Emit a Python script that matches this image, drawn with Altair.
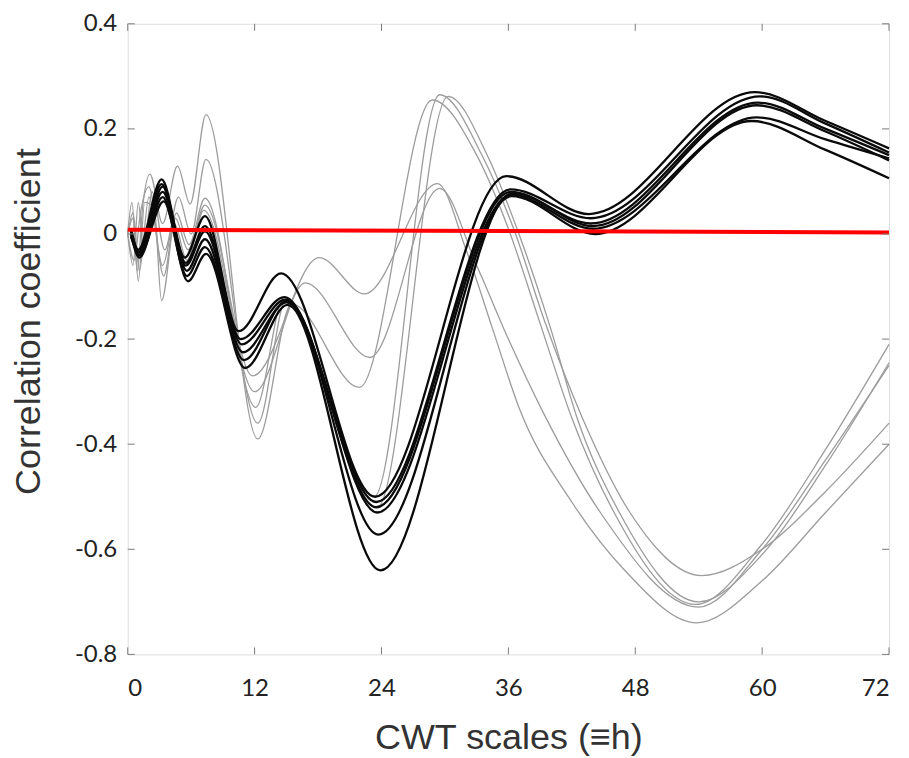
import altair as alt
import pandas as pd

# ---------------- data ----------------
# Black curves (x positions of turning points, correlation values)
B1_X = [0.3, 1.0, 3.2, 5.4, 7.3, 10.5, 14.5, 23.4, 35.8, 43.6, 59.3, 66, 72]
B1_Y = [0.01, -0.03, 0.104, -0.045, 0.034, -0.185, -0.075, -0.50, 0.11, 0.038, 0.27, 0.215, 0.163]
B2_X = [0.3, 1.0, 3.2, 5.5, 7.3, 10.7, 14.8, 23.5, 36.2, 43.8, 59.8, 66, 72]
B2_Y = [0.0, -0.035, 0.095, -0.055, 0.015, -0.20, -0.12, -0.51, 0.085, 0.03, 0.262, 0.21, 0.155]
B3_X = [0.3, 1.1, 3.3, 5.5, 7.3, 10.8, 14.9, 23.5, 36.2, 43.8, 59.6, 66, 72]
B3_Y = [0.005, -0.04, 0.09, -0.06, 0.005, -0.21, -0.125, -0.52, 0.08, 0.02, 0.25, 0.20, 0.15]
B4_X = [0.3, 1.1, 3.3, 5.6, 7.3, 10.9, 15.0, 23.6, 36.3, 44.0, 59.5, 66, 72]
B4_Y = [-0.005, -0.035, 0.08, -0.07, -0.01, -0.225, -0.13, -0.53, 0.075, 0.01, 0.222, 0.18, 0.144]
B5_X = [0.3, 1.1, 3.3, 5.6, 7.3, 11.0, 15.0, 23.7, 36.3, 44.2, 59.0, 66, 72]
B5_Y = [0.0, -0.045, 0.07, -0.08, -0.025, -0.24, -0.128, -0.572, 0.072, 0.0, 0.215, 0.16, 0.106]
B6_X = [0.3, 1.1, 3.4, 5.7, 7.4, 11.1, 15.1, 23.9, 36.4, 44.0, 59.5, 66, 72]
B6_Y = [0.01, -0.04, 0.062, -0.09, -0.038, -0.255, -0.135, -0.64, 0.078, 0.015, 0.245, 0.195, 0.14]

# Grey curves
G1_X = [0, 0.4, 0.9, 1.4, 2.1, 3.3, 4.7, 5.9, 7.4, 12.3, 15.5, 21.9, 28.8, 33, 36, 39, 42, 46, 53.7, 60, 66, 72]
G1_Y = [0, 0.06, -0.07, 0.05, 0.114, 0.02, 0.129, 0.057, 0.227, -0.39, -0.133, -0.292, 0.255, 0.15, 0.01, -0.17, -0.35, -0.53, -0.705, -0.59, -0.41, -0.21]
G2_X = [0, 0.5, 1.0, 1.5, 2.3, 3.5, 4.8, 6.0, 7.4, 12.3, 15.0, 23.3, 29.5, 33.5, 36.5, 39.5, 43, 47.5, 54.3, 60, 66, 72]
G2_Y = [0, -0.06, 0.06, -0.03, 0.08, -0.03, 0.07, 0.0, 0.142, -0.36, -0.125, -0.50, 0.265, 0.15, 0.01, -0.17, -0.35, -0.53, -0.65, -0.60, -0.49, -0.36]
G3_X = [0, 0.5, 1.0, 1.6, 2.5, 3.2, 4.6, 5.8, 7.3, 12.1, 14.8, 23.6, 30.3, 34, 37, 40, 42.5, 46.5, 54, 60, 66, 72]
G3_Y = [0, 0.03, -0.09, 0.06, 0.05, -0.127, 0.04, -0.02, 0.068, -0.33, -0.12, -0.52, 0.262, 0.15, 0.0, -0.18, -0.35, -0.53, -0.70, -0.61, -0.44, -0.245]
G4_X = [0, 0.6, 1.2, 2.0, 3.4, 4.5, 5.7, 7.3, 11.8, 18.1, 22.4, 29.3, 32, 34.5, 37, 42, 47, 53.8, 60, 66, 72]
G4_Y = [0, -0.05, 0.04, 0.09, -0.08, 0.03, -0.03, 0.055, -0.27, -0.045, -0.114, 0.096, -0.03, -0.18, -0.33, -0.51, -0.64, -0.74, -0.66, -0.53, -0.40]
G5_X = [0, 0.5, 1.1, 2.0, 3.3, 4.4, 5.6, 7.2, 12.0, 16.8, 22.9, 29.5, 33, 36, 39.3, 44.7, 54, 60, 66, 72]
G5_Y = [0, 0.04, -0.07, 0.07, -0.06, 0.02, -0.05, 0.045, -0.30, -0.093, -0.235, 0.087, -0.06, -0.2, -0.34, -0.53, -0.71, -0.60, -0.43, -0.25]

ZERO_X = [0, 72]
ZERO_Y = [0.008, 0.003]

X_TICKS = [0, 12, 24, 36, 48, 60, 72]
Y_TICKS = [-0.8, -0.6, -0.4, -0.2, 0, 0.2, 0.4]

# ---------------- build tables ----------------
def frame(name, xs, ys):
    return pd.DataFrame({"x": xs, "y": ys, "series": name})

black = pd.concat([frame("B1", B1_X, B1_Y), frame("B2", B2_X, B2_Y), frame("B3", B3_X, B3_Y),
                   frame("B4", B4_X, B4_Y), frame("B5", B5_X, B5_Y), frame("B6", B6_X, B6_Y)])
grey = pd.concat([frame("G1", G1_X, G1_Y), frame("G2", G2_X, G2_Y), frame("G3", G3_X, G3_Y),
                  frame("G4", G4_X, G4_Y), frame("G5", G5_X, G5_Y)])
zero = pd.DataFrame({"x": ZERO_X, "y": ZERO_Y})
xt = pd.DataFrame({"x": X_TICKS})
yt = pd.DataFrame({"y": Y_TICKS})

W, H = 763, 632
xs = alt.Scale(domain=[0, 72], nice=False, zero=False)
ys = alt.Scale(domain=[-0.8, 0.4], nice=False, zero=False)

x_axis = alt.Axis(values=X_TICKS, format="d", ticks=False, domain=False, grid=False,
                  labelFont="Lato", labelFontSize=24, labelColor="#222", labelPadding=22,
                  title="CWT scales (\u2261h)", titleFont="Liberation Sans", titleFontSize=36,
                  titleFontWeight="normal", titleColor="#333", titleBaseline="alphabetic",
                  titleY=94)
y_axis = alt.Axis(values=Y_TICKS, ticks=False, domain=False, grid=False,
                  labelExpr="abs(datum.value) < 1e-9 ? '0' : (datum.value < 0 ? '-' + format(-datum.value, '.1f') : format(datum.value, '.1f'))",
                  labelFont="Lato", labelFontSize=24, labelColor="#222", labelPadding=11,
                  title="Correlation coefficient", titleFont="Liberation Sans", titleFontSize=36,
                  titleFontWeight="normal", titleColor="#333", titleX=-80, titleY=298)

grey_layer = alt.Chart(grey).mark_line(color="#9c9c9c", strokeWidth=1.3, interpolate="monotone").encode(
    x=alt.X("x:Q", scale=xs, axis=x_axis),
    y=alt.Y("y:Q", scale=ys, axis=y_axis),
    detail="series:N",
)
black_layer = alt.Chart(black).mark_line(color="#0a0a0a", strokeWidth=2.3, interpolate="monotone").encode(
    x=alt.X("x:Q", scale=xs),
    y=alt.Y("y:Q", scale=ys),
    detail="series:N",
)
zero_layer = alt.Chart(zero).mark_line(color="#ff0000", strokeWidth=4).encode(
    x=alt.X("x:Q", scale=xs),
    y=alt.Y("y:Q", scale=ys),
)

tick_color = "#7a7a7a"
bt = alt.Chart(xt).mark_rule(color=tick_color, strokeWidth=1).encode(x=alt.X("x:Q", scale=xs), y=alt.value(H), y2=alt.value(H - 7))
tt = alt.Chart(xt).mark_rule(color=tick_color, strokeWidth=1).encode(x=alt.X("x:Q", scale=xs), y=alt.value(0), y2=alt.value(7))
lt = alt.Chart(yt).mark_rule(color=tick_color, strokeWidth=1).encode(y=alt.Y("y:Q", scale=ys), x=alt.value(0), x2=alt.value(7))
rt = alt.Chart(yt).mark_rule(color=tick_color, strokeWidth=1).encode(y=alt.Y("y:Q", scale=ys), x=alt.value(W), x2=alt.value(W - 7))

chart = alt.layer(grey_layer, black_layer, zero_layer, bt, tt, lt, rt).properties(
    width=W, height=H,
    autosize=alt.AutoSizeParams(type="none"),
    padding={"left": 120, "top": 15, "right": 12, "bottom": 101},
).configure_view(stroke="#808080", strokeWidth=1.5).configure(background="white")

chart.save("out.html", embed_options={"renderer": "svg", "actions": False})
